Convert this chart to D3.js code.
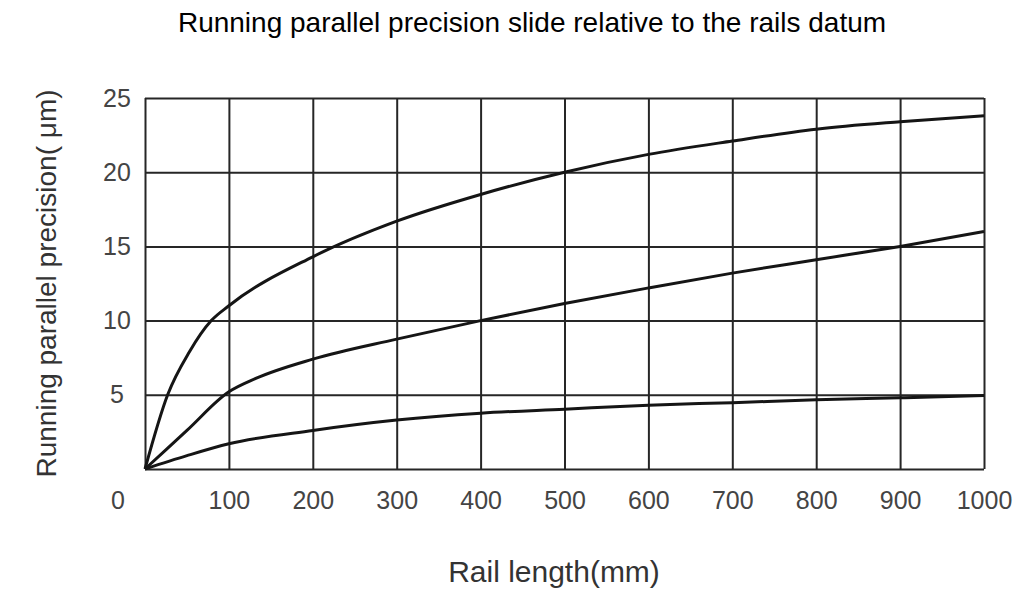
<!DOCTYPE html>
<html>
<head>
<meta charset="utf-8">
<script src="https://cdn.jsdelivr.net/npm/d3@7"></script>
<style>
  body { margin: 0; background: #fff; }
  svg { display: block; font-family: Arial, "Liberation Sans", sans-serif; }
  .grid line { stroke: #262626; stroke-width: 2; }
  .grid path { display: none; }
  .ticks path, .ticks line { display: none; }
  .ticks text { fill: #444; font-size: 25px; }
  .curve { fill: none; stroke: #151515; stroke-width: 3; }
</style>
</head>
<body>
<svg></svg>
<script>
  const xTicks = [0, 100, 200, 300, 400, 500, 600, 700, 800, 900, 1000];
  const yTicks = [0, 5, 10, 15, 20, 25];

  // three precision curves (mm -> µm)
  const upperLen = [0, 27, 53, 79, 100, 200, 300, 400, 500, 600, 700, 800, 900, 1000];
  const upperVal = [0, 5, 7.9, 10, 11, 14.3, 16.7, 18.5, 20, 21.2, 22.1, 22.9, 23.4, 23.8];
  const middleLen = [0, 50, 100, 132, 200, 300, 400, 500, 600, 700, 800, 900, 1000];
  const middleVal = [0, 2.6, 5.2, 6.1, 7.4, 8.75, 10, 11.15, 12.2, 13.2, 14.1, 15.0, 16.0];
  const lowerLen = [0, 50, 100, 200, 300, 400, 500, 600, 700, 800, 900, 1000];
  const lowerVal = [0, 0.9, 1.7, 2.6, 3.3, 3.76, 4.03, 4.3, 4.47, 4.66, 4.8, 4.95];

  const width = 1036, height = 594;
  const margin = { top: 98, right: 52, bottom: 125, left: 145 };
  const innerWidth = width - margin.left - margin.right;
  const innerHeight = height - margin.top - margin.bottom;

  const svg = d3.select('svg').attr('width', width).attr('height', height);
  const g = svg.append('g').attr('transform', `translate(${margin.left},${margin.top})`);

  const x = d3.scaleLinear().domain([0, 1000]).range([0, innerWidth]);
  const y = d3.scaleLinear().domain([0, 25]).range([innerHeight, 0]);

  // grid
  g.append('g').attr('class', 'grid')
      .attr('transform', `translate(0,${innerHeight})`)
      .call(d3.axisBottom(x).tickValues(xTicks).tickSize(-innerHeight).tickFormat(''))
    .selectAll('text').remove();
  g.append('g').attr('class', 'grid')
      .call(d3.axisLeft(y).tickValues(yTicks).tickSize(-innerWidth).tickFormat(''))
    .selectAll('text').remove();

  // tick labels
  g.append('g').attr('class', 'ticks')
      .attr('transform', `translate(0,${innerHeight})`)
      .call(d3.axisBottom(x).tickValues(xTicks.slice(1)).tickSize(0).tickPadding(22).tickFormat(d => d));
  g.append('g').attr('class', 'ticks')
      .call(d3.axisLeft(y).tickValues(yTicks.slice(1)).tickSize(0))
    .selectAll('text')
      .attr('text-anchor', 'middle')
      .attr('x', -28);
  g.append('g').attr('class', 'ticks')
    .append('text')
      .attr('x', -27)
      .attr('y', innerHeight + 22)
      .attr('dy', '0.71em')
      .attr('text-anchor', 'middle')
      .text('0');

  // curves
  const line = d3.line()
      .x(d => x(d[0]))
      .y(d => y(d[1]))
      .curve(d3.curveMonotoneX);
  [[upperLen, upperVal], [middleLen, middleVal], [lowerLen, lowerVal]].forEach(([len, val]) => {
    g.append('path')
        .attr('class', 'curve')
        .attr('d', line(d3.zip(len, val)));
  });

  // titles
  svg.append('text')
      .attr('x', 532).attr('y', 32)
      .attr('text-anchor', 'middle')
      .attr('font-size', 28)
      .attr('fill', '#000')
      .text('Running parallel precision slide relative to the rails datum');

  svg.append('text')
      .attr('x', 554)
      .attr('y', 582)
      .attr('text-anchor', 'middle')
      .attr('font-size', 30)
      .attr('fill', '#333')
      .text('Rail length(mm)');

  svg.append('text')
      .attr('transform', `translate(56,${margin.top + innerHeight / 2}) rotate(-90)`)
      .attr('text-anchor', 'middle')
      .attr('font-size', 28)
      .attr('fill', '#333')
      .text('Running parallel precision( \u03bcm)');
</script>
</body>
</html>
